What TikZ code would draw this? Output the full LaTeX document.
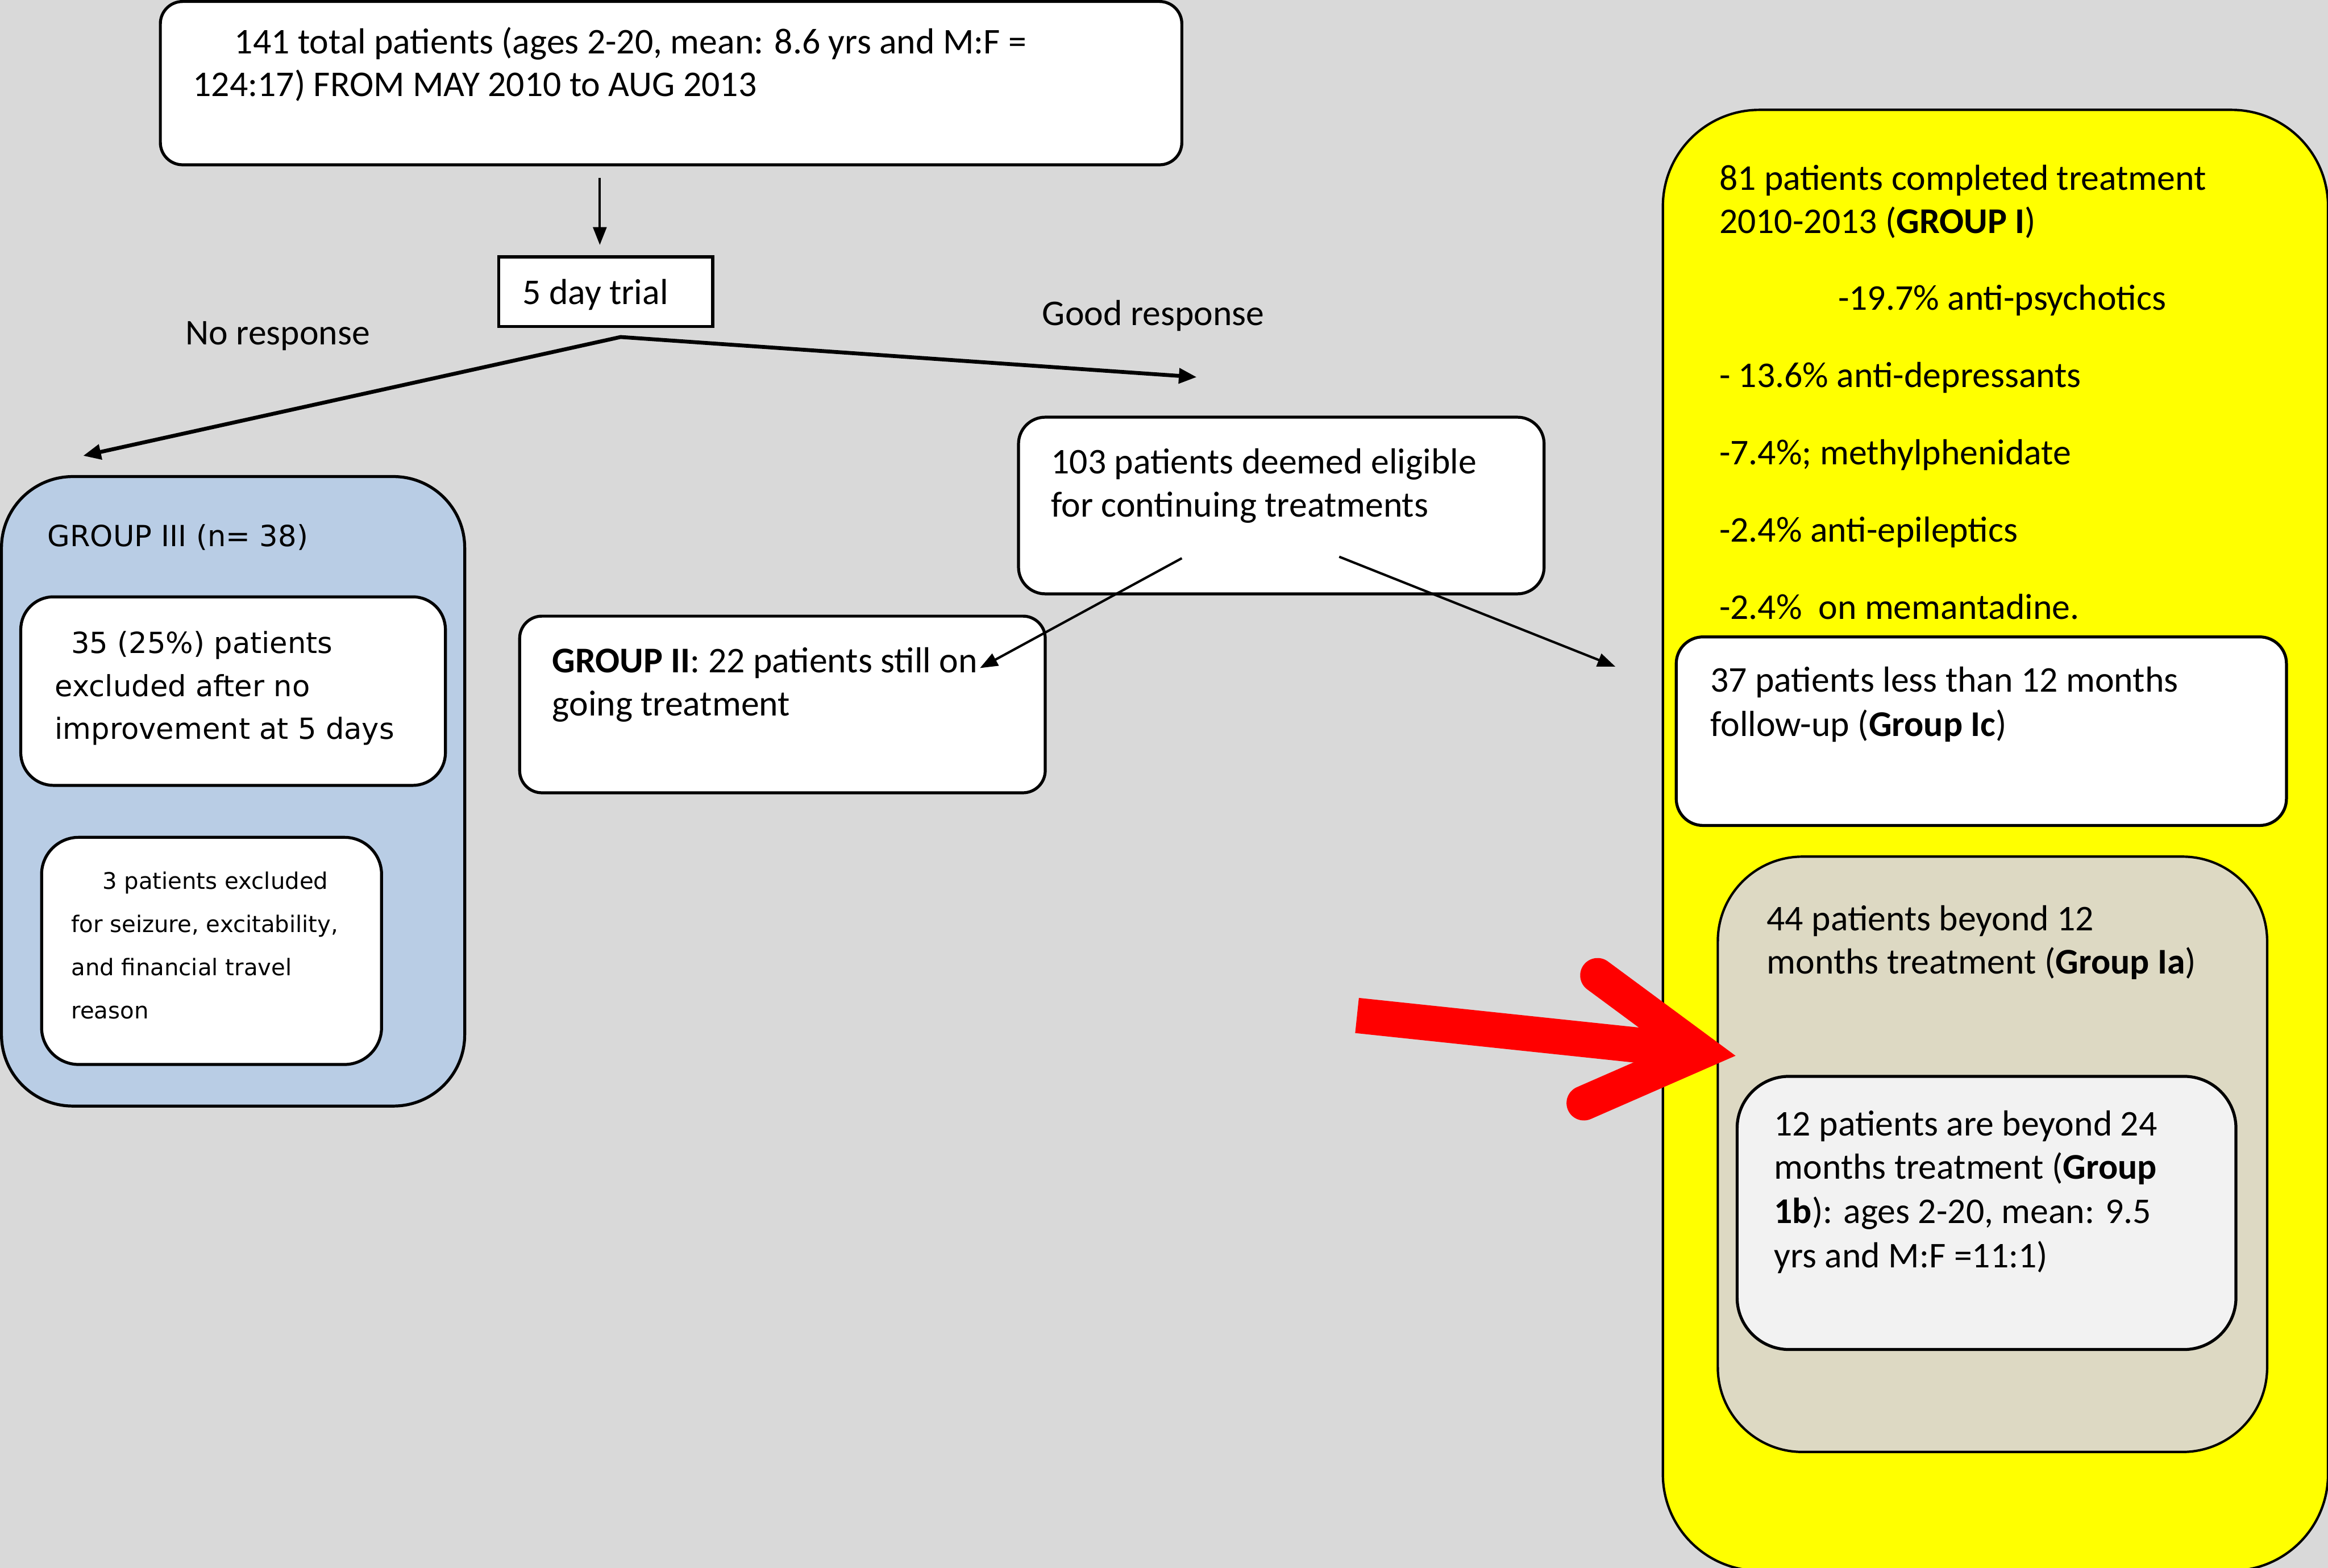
\documentclass[tikz,border=0pt]{standalone}
\usepackage{fontspec}
\setmainfont{Carlito}
\newfontfamily\verd{DejaVu Sans}
\usetikzlibrary{arrows.meta,calc}
\definecolor{bgc}{RGB}{217,217,217}
\definecolor{bluc}{RGB}{185,205,229}
\definecolor{yelc}{RGB}{255,255,0}
\definecolor{tanc}{RGB}{221,217,195}
\definecolor{lgrc}{RGB}{242,242,242}
\definecolor{redc}{RGB}{255,0,0}
\newcommand{\rbx}[6]{\node[bx,#6, minimum width={(#4-#2)*0.5pt}, minimum height={(#5-#3)*0.5pt}] (#1) at ({(#2+#4)/2},{(#3+#5)/2}) {};}
\begin{document}
\begin{tikzpicture}[x=0.5pt,y=-0.5pt,
 bx/.style={draw=black, line width=1pt, inner sep=0pt, outer sep=0pt},
 txt/.style={anchor=base west, inner sep=0pt, outer sep=0pt, yshift=-1pt, font=\fontsize{12.2}{14.5}\selectfont},
 vtxt/.style={txt, font=\verd\fontsize{9.8}{14.5}\selectfont},
 stxt/.style={txt, font=\verd\fontsize{7.7}{14.5}\selectfont},
 thinarr/.style={draw, line width=0.8pt, -{Triangle[length=6pt,width=4.5pt]}},
 splitarr/.style={draw, line width=1.3pt, {Triangle[length=6pt,width=5pt]}-{Triangle[length=6pt,width=5pt]}, line join=miter},
]
\fill[bgc] (0,0) rectangle (1568,1056);
\useasboundingbox (0,0) rectangle (1568,1056);

% boxes
\rbx{top}{108}{1}{796}{111}{fill=white, rounded corners=7.5pt}
\rbx{trial}{336}{173}{480}{220}{fill=white}
\rbx{gthree}{1}{321}{313}{745}{fill=bluc, rounded corners=24pt}
\rbx{exa}{14}{402}{300}{529}{fill=white, rounded corners=11pt}
\rbx{exb}{28}{564}{257}{717}{fill=white, rounded corners=12.5pt}
\rbx{gtwo}{350}{415}{704}{534}{fill=white, rounded corners=7.5pt}
\rbx{elig}{686}{281}{1040}{400}{fill=white, rounded corners=9pt}
\rbx{gone}{1120}{74}{1568}{1058}{fill=yelc, rounded corners=32.5pt, line width=0.8pt}
\rbx{gic}{1129}{429}{1540}{556}{fill=white, rounded corners=9pt}
\rbx{gia}{1157}{577}{1527}{978}{fill=tanc, rounded corners=28.5pt, line width=0.8pt}
\rbx{gib}{1170}{725}{1506}{909}{fill=lgrc, rounded corners=17.5pt}

% texts
\node[txt] (t1) at (158,34) {141 total patients (ages 2-20, mean: 8.6 yrs and M:F =};
\node[txt] (t2) at (130,63) {124:17) FROM MAY 2010 to AUG 2013};
\node[txt] (t3) at (352,203) {5 day trial};
\node[txt] (t4) at (125,230) {No response};
\node[txt] (t5) at (702,217) {Good response};
\node[vtxt] (t6) at (32,366) {GROUP III (n= 38)};
\node[vtxt] (t7) at (48,438) {35 (25\%) patients};
\node[vtxt] (t8) at (37,467) {excluded after no};
\node[vtxt] (t9) at (37,496) {improvement at 5 days};
\node[stxt] (t10) at (69,597) {3 patients excluded};
\node[stxt] (t11) at (48,626) {for seizure, excitability,};
\node[stxt] (t12) at (48,655) {and financial travel};
\node[stxt] (t13) at (48,684) {reason};
\node[txt] (t14) at (372,451) {\textbf{GROUP II}: 22 patients still on};
\node[txt] (t15) at (372,480) {going treatment};
\node[txt] (t16) at (708,317) {103 patients deemed eligible};
\node[txt] (t17) at (708,346) {for continuing treatments};
\node[txt] (t18) at (1158,126) {81 patients completed treatment};
\node[txt] (t19) at (1158,155) {2010-2013 (\textbf{GROUP I})};
\node[txt] (t20) at (1238,207) {-19.7\% anti-psychotics};
\node[txt] (t21) at (1158,259) {- 13.6\% anti-depressants};
\node[txt] (t22) at (1158,311) {-7.4\%; methylphenidate};
\node[txt] (t23) at (1158,363) {-2.4\% anti-epileptics};
\node[txt] (t24) at (1158,415) {-2.4\%\ \ on memantadine.};
\node[txt] (t25) at (1152,464) {37 patients less than 12 months};
\node[txt] (t26) at (1152,494) {follow-up (\textbf{Group Ic})};
\node[txt] (t27) at (1190,625) {44 patients beyond 12};
\node[txt] (t28) at (1190,654) {months treatment (\textbf{Group Ia})};
\node[txt] (t29) at (1195,763) {12 patients are beyond 24};
\node[txt] (t30) at (1195,792) {months treatment (\textbf{Group}};
\node[txt] (t31) at (1195,822) {\textbf{1b}): ages 2-20, mean: 9.5};
\node[txt] (t32) at (1195,852) {yrs and M:F =11:1)};

% connectors
\coordinate (tn) at ($(trial.north)+(-4,0)$);
\draw[thinarr, shorten <=4.5pt, shorten >=4pt] (top.south -| tn) -- (tn);
\coordinate (ap) at ($(trial.south)+(10,7)$);
\coordinate (nr) at ($(gthree.north)+(-101,-14)$);
\coordinate (gr) at ($(elig.north)+(-57,-27)$);
\draw[splitarr] (nr) -- (ap) -- (gr);
\draw[thinarr] ($(elig.center)+(-67,35.5)$) -- ($(gtwo.center)+(133,-24.5)$);
\coordinate (yl) at ($(gone.west)+(-32,-117)$);
\draw[thinarr] ($(elig.center)+(39,34.5)$) -- (yl);

% red arrow
\coordinate (rc) at (1145.7,708.5);
\draw[redc, line width=11.9pt, line cap=butt] (914,684) -- (rc);
\draw[redc, line width=11.7pt, line cap=round, line join=miter] (1076,657) -- (rc) -- (1066.8,743);
\end{tikzpicture}
\end{document}
